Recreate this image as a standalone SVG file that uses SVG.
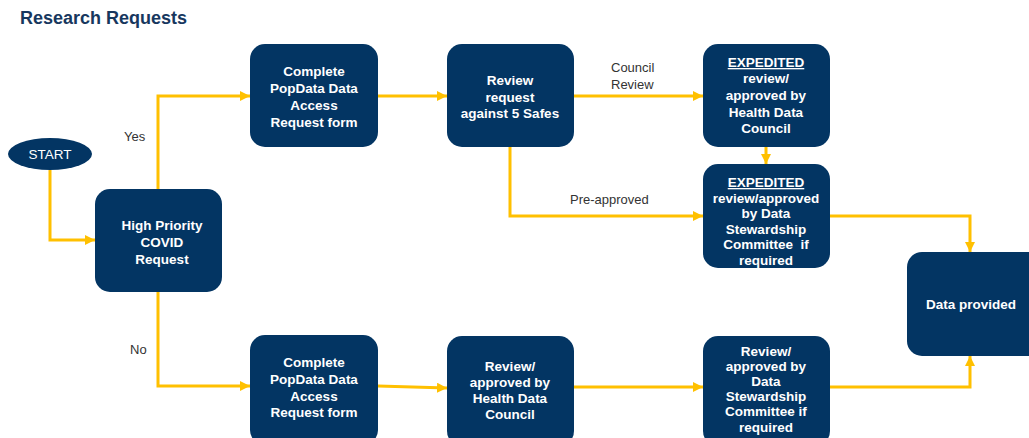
<svg xmlns="http://www.w3.org/2000/svg" width="1029" height="438" viewBox="0 0 1029 438">
<defs>
<marker id="ah" markerUnits="userSpaceOnUse" markerWidth="11" markerHeight="11" refX="10" refY="5" orient="auto"><path d="M0,0 L10,5 L0,10 z" fill="#ffc000"/></marker>
<style>
.n{fill:#033563}
.t{font-family:"Liberation Sans",Arial,sans-serif;font-weight:bold;font-size:13.5px;fill:#fff;text-anchor:middle}
.l{font-family:"Liberation Sans",Arial,sans-serif;font-size:13px;fill:#333}
.c{fill:none;stroke:#ffc000;stroke-width:3;marker-end:url(#ah)}
.u{text-decoration:underline}
</style>
</defs>
<rect width="1029" height="438" fill="#fff"/>
<text x="20" y="24" font-family="'Liberation Sans',Arial,sans-serif" font-weight="bold" font-size="18" fill="#17375e">Research Requests</text>
<g id="connectors">
<path class="c" d="M50,170 V240 H95"/>
<path class="c" d="M158,189 V96 H250"/>
<path class="c" d="M158,292 V386 H250"/>
<path class="c" d="M378,96 H447"/>
<path class="c" d="M574,96 H703"/>
<path class="c" d="M510,147 V216 H703"/>
<path class="c" d="M766,147 V164"/>
<path class="c" d="M830,216 H970 V252"/>
<path class="c" d="M378,386 L447,388"/>
<path class="c" d="M574,387 H703"/>
<path class="c" d="M830,387 H970 V356"/>
</g>
<g id="labels">
<text class="l" x="124" y="141">Yes</text>
<text class="l" x="130" y="354">No</text>
<text class="l" x="611" y="72">Council</text>
<text class="l" x="611" y="89">Review</text>
<text class="l" x="570" y="204">Pre-approved</text>
</g>
<g id="start">
<ellipse class="n" cx="50" cy="154" rx="42" ry="16"/>
<text x="50" y="159" font-family="'Liberation Sans',Arial,sans-serif" font-size="13.5" fill="#fff" text-anchor="middle">START</text>
</g>
<g id="covid">
<rect class="n" x="95" y="189" width="127" height="103" rx="15"/>
<text class="t" x="162"><tspan x="162" y="230">High Priority</tspan><tspan x="162" y="247">COVID</tspan><tspan x="162" y="264">Request</tspan></text>
</g>
<g id="form1">
<rect class="n" x="250" y="44" width="128" height="103" rx="15"/>
<text class="t"><tspan x="314" y="76">Complete</tspan><tspan x="314" y="93">PopData Data</tspan><tspan x="314" y="110">Access</tspan><tspan x="314" y="127">Request form</tspan></text>
</g>
<g id="review5">
<rect class="n" x="447" y="44" width="127" height="103" rx="15"/>
<text class="t"><tspan x="510" y="85">Review</tspan><tspan x="510" y="102">request</tspan><tspan x="510" y="118">against 5 Safes</tspan></text>
</g>
<g id="exp1">
<rect class="n" x="703" y="44" width="127" height="103" rx="15"/>
<text class="t"><tspan x="766" y="67" class="u">EXPEDITED</tspan><tspan x="766" y="83">review/</tspan><tspan x="766" y="100">approved by</tspan><tspan x="766" y="117">Health Data</tspan><tspan x="766" y="133">Council</tspan></text>
</g>
<g id="exp2">
<rect class="n" x="703" y="164" width="127" height="104" rx="15"/>
<text class="t"><tspan x="766" y="187" class="u">EXPEDITED</tspan><tspan x="766" y="203">review/approved</tspan><tspan x="766" y="218">by Data</tspan><tspan x="766" y="234">Stewardship</tspan><tspan x="766" y="249">Committee&#160; if</tspan><tspan x="766" y="265">required</tspan></text>
</g>
<g id="data">
<rect class="n" x="907" y="252" width="140" height="104" rx="15"/>
<text class="t" x="971" y="309">Data provided</text>
</g>
<g id="form2">
<rect class="n" x="250" y="335" width="128" height="110" rx="15"/>
<text class="t"><tspan x="314" y="367">Complete</tspan><tspan x="314" y="384">PopData Data</tspan><tspan x="314" y="401">Access</tspan><tspan x="314" y="417">Request form</tspan></text>
</g>
<g id="hdc">
<rect class="n" x="447" y="336" width="127" height="110" rx="15"/>
<text class="t"><tspan x="510" y="371">Review/</tspan><tspan x="510" y="387">approved by</tspan><tspan x="510" y="403">Health Data</tspan><tspan x="510" y="419">Council</tspan></text>
</g>
<g id="dsc">
<rect class="n" x="703" y="336" width="127" height="110" rx="15"/>
<text class="t"><tspan x="766" y="356">Review/</tspan><tspan x="766" y="371">approved by</tspan><tspan x="766" y="386">Data</tspan><tspan x="766" y="401">Stewardship</tspan><tspan x="766" y="416">Committee if</tspan><tspan x="766" y="432">required</tspan></text>
</g>
</svg>
